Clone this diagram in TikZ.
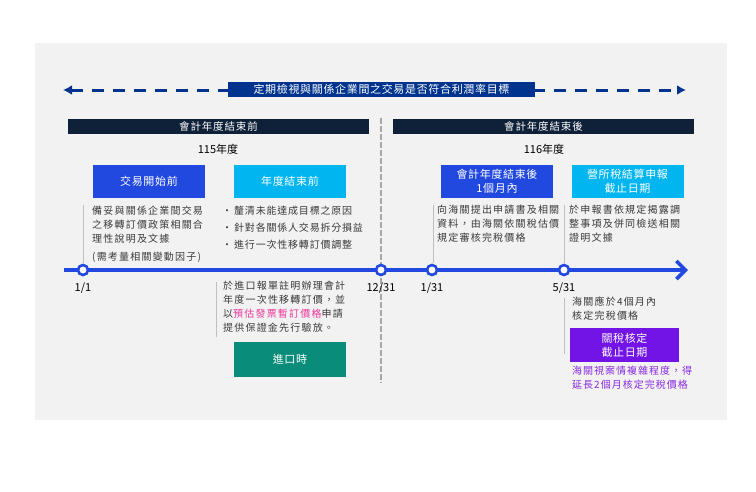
\documentclass[tikz,border=0pt]{standalone}
\usepackage{fontspec}
\setmainfont{Noto Sans CJK TC}
\usetikzlibrary{arrows.meta,positioning}
\definecolor{bggray}{HTML}{F2F2F2}
\definecolor{hdrnavy}{HTML}{0E2139}
\definecolor{dkblue}{HTML}{00338D}
\definecolor{tlblue}{HTML}{2149E0}
\definecolor{skycyan}{HTML}{00B5F0}
\definecolor{impgreen}{HTML}{0A8C7A}
\definecolor{violetbox}{HTML}{7214E6}
\definecolor{violettxt}{HTML}{8A2BE2}
\definecolor{pinktxt}{HTML}{F0359A}
\definecolor{txtgray}{HTML}{3A3A3A}
\definecolor{linegray}{HTML}{BFBFBF}
\definecolor{dashgray}{HTML}{A6A6A6}
\tikzset{
  hdrbar/.style={fill=hdrnavy, text=white, minimum width=301pt, minimum height=15pt, inner sep=0pt,
    font=\fontsize{10.5}{12}\selectfont\addfontfeature{LetterSpace=8}},
  stagebox/.style={minimum width=112pt, minimum height=33pt, inner sep=0pt, text=white, align=center,
    font=\fontsize{11}{14}\selectfont\addfontfeature{LetterSpace=6}},
  tdot/.style={circle, draw=tlblue, fill=white, line width=2.6pt, minimum size=10pt, inner sep=0pt},
  datelbl/.style={font=\fontsize{11}{13}\selectfont, text=black},
  bodytxt/.style={anchor=north west, inner sep=0pt, align=left, text=txtgray,
    font=\fontsize{10}{14}\selectfont\addfontfeature{LetterSpace=12}},
  guide/.style={linegray, line width=1pt}
}
\begin{document}
\begin{tikzpicture}[x=1pt, y=-1pt]
\useasboundingbox (0,0) rectangle (756,491);
\fill[bggray] (35,43) rectangle (727,420);
\coordinate (goalL) at (63,90);
\coordinate (goalR) at (686,90);
\draw[dkblue, line width=3pt, dash pattern=on 12pt off 9pt, {Latex[length=9pt,width=10pt]}-{Latex[length=9pt,width=10pt]}] (goalL) -- (goalR);
\node[fill=dkblue, text=white, minimum width=307pt, minimum height=15pt, inner sep=0pt,
  font=\fontsize{11}{13}\selectfont\addfontfeature{LetterSpace=6}] (goal) at (381.5,89.5) {定期檢視與關係企業間之交易是否符合利潤率目標};
\node[hdrbar] (before) at (218.5,126.5) {會計年度結束前};
\node[hdrbar] (after) at (543.5,126.5) {會計年度結束後};
\node[font=\fontsize{11}{13}\selectfont] (y115) at (218,149) {115年度};
\node[font=\fontsize{11}{13}\selectfont] (y116) at (544,149) {116年度};
\node[stagebox, fill=tlblue] (start) at (149,181.5) {交易開始前};
\node[stagebox, fill=skycyan] (yearend) at (290,181.5) {年度結束前};
\node[stagebox, fill=tlblue] (month1) at (497,181.5) {會計年度結束後\\1個月內};
\node[stagebox, fill=skycyan] (taxdue) at (627.5,181.5) {營所稅結算申報\\截止日期};
\draw[dashgray, line width=2pt, dash pattern=on 6pt off 2pt] (381,118) -- (381,383);
\coordinate (tlL) at (64,270);
\coordinate (tlR) at (688,270);
\draw[tlblue, line width=3.6pt, -{Straight Barb[length=9pt,width=18pt,line width=3.6pt]}] (tlL) -- (tlR);
\node[tdot] (d0101) at (83,270) {};
\node[tdot] (d1231) at (381,270) {};
\node[tdot] (d0131) at (432,270) {};
\node[tdot] (d0531) at (564,270) {};
\node[datelbl] at (83,288) {1/1};
\node[datelbl] at (381,288) {12/31};
\node[datelbl] at (432,288) {1/31};
\node[datelbl] at (564,288) {5/31};
\draw[guide] (83,205) -- (83,263);
\draw[guide] (433,205) -- (433,263);
\draw[guide] (564,205) -- (564,263);
\draw[guide] (216,282) -- (216,337);
\draw[guide] (564,298) -- (564,354);
\node[bodytxt] (prep) at (92,206) {備妥與關係企業間交易\\之移轉訂價政策相關合\\理性說明及文據\\[4pt](需考量相關變動因子)};
\node[bodytxt, font=\fontsize{10}{17}\selectfont\addfontfeature{LetterSpace=8}] (todo) at (222,206)
  {\makebox[12pt][l]{•}釐清未能達成目標之原因\\\makebox[12pt][l]{•}針對各關係人交易拆分損益\\\makebox[12pt][l]{•}進行一次性移轉訂價調整};
\node[bodytxt] (import) at (223,281) {於進口報單註明辦理會計\\年度一次性移轉訂價，並\\以\textcolor{pinktxt}{預估發票暫訂價格}申請\\提供保證金先行驗放。};
\node[stagebox, fill=impgreen, minimum height=35pt] (imptime) at (290,359.5) {進口時};
\node[bodytxt] (apply) at (437,205) {向海關提出申請書及相關\\資料，由海關依關稅估價\\規定審核完稅價格};
\node[bodytxt] (disclose) at (569,205) {於申報書依規定揭露調\\整事項及併同檢送相關\\證明文據};
\node[bodytxt] (assess) at (572,297) {海關應於4個月內\\核定完稅價格};
\node[stagebox, fill=violetbox, minimum width=109pt, minimum height=34pt] (dutydue) at (624.5,345) {關稅核定\\截止日期};
\node[bodytxt, text=violettxt, font=\fontsize{10}{14}\selectfont\addfontfeature{LetterSpace=10}] (extend) at (572,366) {海關視案情複雜程度，得\\延長2個月核定完稅價格};
\end{tikzpicture}
\end{document}
